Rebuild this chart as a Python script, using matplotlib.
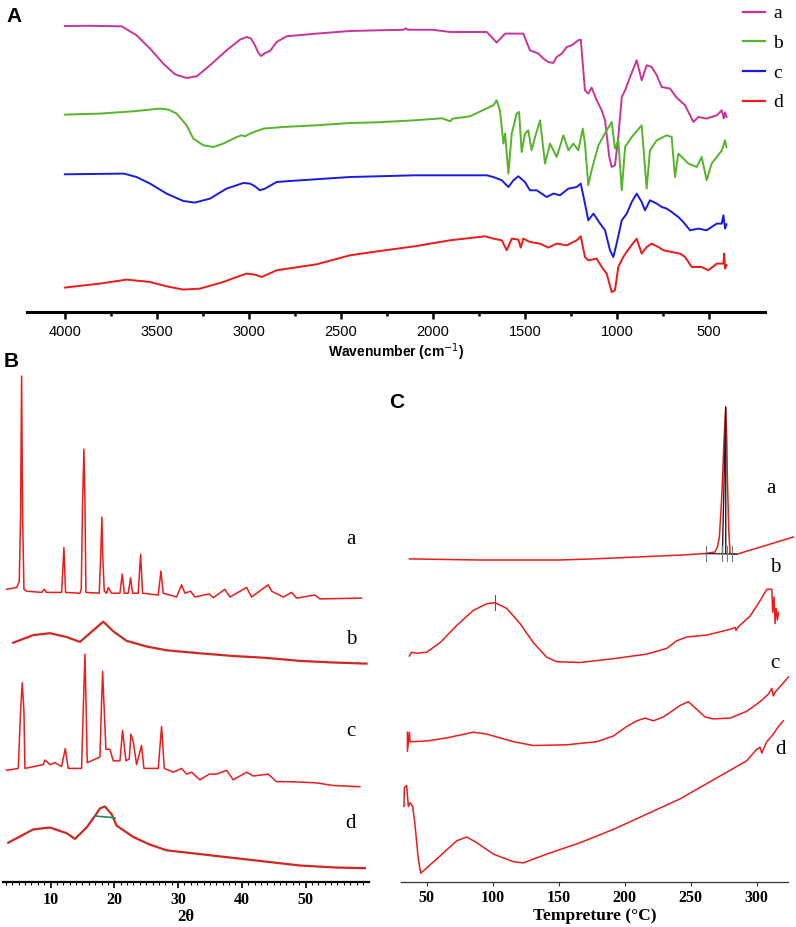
import numpy as np
import matplotlib
matplotlib.use("Agg")
import matplotlib.pyplot as plt
from matplotlib.lines import Line2D

W, H = 796, 927

# ---------------- data ----------------
# Panel A: FTIR, (wavenumber cm-1, transmittance a.u., stacked)
ftir_a = [(4000, 286.3), (3863, 286.5), (3691, 286), (3610, 277), (3537, 263.7), (3465, 248.7),
          (3401, 238), (3338, 234.3), (3283, 236), (3211, 247), (3121, 262), (3048, 272.7),
          (3012, 275.3), (2988, 273.7), (2967, 267), (2948, 259.3), (2934, 256.3), (2912, 259.3),
          (2885, 261.3), (2849, 270.3), (2795, 276), (2632, 278.7), (2450, 281.3), (2300, 282),
          (2160, 282.5), (2148, 284), (2135, 282.5), (2000, 282.5), (1907, 280.3), (1708, 280.3),
          (1681, 275.3), (1654, 269.7), (1608, 278.7), (1509, 278.7), (1473, 262), (1427, 258.7),
          (1400, 253.7), (1373, 250.3), (1346, 249.3), (1328, 255.3), (1300, 258.7), (1273, 265.3),
          (1246, 267), (1210, 272), (1197, 272.7), (1174, 222), (1156, 218.7), (1138, 224.7),
          (1110, 212), (1083, 202), (1065, 192), (1042, 155.3), (1029, 145.3), (1011, 147),
          (993, 175.3), (974, 215.3), (956, 222), (929, 235.3), (893, 252), (866, 232), (839, 247),
          (812, 245.3), (784, 237), (757, 225.3), (712, 223.7), (676, 214.7), (630, 207),
          (585, 190.3), (558, 195.3), (513, 193.7), (458, 197), (431, 202), (420, 194),
          (413, 200), (405, 195.3)]
ftir_b = [(4000, 197.7), (3809, 198.7), (3628, 201), (3483, 203.7), (3437, 202.7), (3392, 198.7),
          (3338, 187), (3302, 173.7), (3247, 167), (3193, 165.3), (3139, 168.7), (3066, 175.3),
          (3039, 177), (3021, 176), (2994, 178.7), (2921, 183.7), (2813, 185.3), (2632, 187),
          (2450, 189.3), (2300, 190), (2100, 192), (1950, 194), (1905, 191), (1895, 193.5),
          (1799, 196), (1672, 207), (1654, 212), (1636, 202), (1617, 168.7), (1608, 178.7),
          (1590, 138.7), (1572, 178.7), (1545, 198.7), (1532, 200.3), (1518, 160.3), (1500, 178.7),
          (1482, 182), (1464, 162), (1445, 175.3), (1418, 192), (1391, 148.7), (1364, 168.7),
          (1328, 155.3), (1291, 177), (1264, 162), (1237, 168.7), (1210, 162), (1186, 183.7),
          (1174, 168.7), (1156, 127), (1138, 142), (1101, 167), (1056, 182), (1029, 190.3),
          (1011, 163.7), (993, 172), (974, 122), (956, 165.3), (920, 175.3), (866, 187),
          (839, 123.7), (821, 162), (784, 172), (730, 177), (703, 175.3), (685, 135.3),
          (667, 158.7), (612, 148.7), (567, 145.3), (540, 155.3), (513, 132), (486, 148.7),
          (458, 155.3), (430, 162), (413, 172), (405, 165)]
ftir_c = [(4000, 138), (3679, 138.7), (3610, 135.3), (3537, 128.7), (3447, 118.7), (3356, 111.3),
          (3293, 109.7), (3211, 113.7), (3121, 123.7), (3030, 129.3), (2994, 128.7), (2967, 126),
          (2940, 122), (2912, 123.7), (2849, 130.3), (2776, 131.3), (2450, 135.3), (2300, 136),
          (2100, 137), (1907, 137), (1708, 137), (1672, 135.3), (1626, 132), (1590, 125.3),
          (1563, 132), (1536, 136), (1500, 130.3), (1473, 122), (1436, 122), (1382, 115.3),
          (1346, 118.7), (1310, 117), (1264, 123.7), (1219, 125.3), (1197, 128.7), (1174, 108.7),
          (1156, 92), (1128, 98.7), (1092, 88.7), (1065, 82), (1038, 62), (1020, 55.3),
          (1002, 68.7), (974, 92), (947, 98.7), (920, 110.3), (893, 118.7), (866, 110.3),
          (848, 102), (821, 112), (784, 108.7), (757, 105.3), (730, 103.7), (703, 100.3),
          (667, 95.3), (640, 90.3), (603, 82), (558, 83.7), (513, 82), (458, 88.7), (431, 88.7),
          (422, 97), (413, 83.7), (405, 88)]
ftir_d = [(4000, 24.7), (3809, 28.7), (3664, 32.7), (3537, 30.3), (3447, 26), (3356, 22.7),
          (3265, 23.7), (3139, 30.3), (3066, 35.3), (3012, 38.7), (2967, 37.7), (2930, 35.3),
          (2849, 42), (2632, 48), (2450, 57), (2300, 61), (2100, 66), (1907, 72), (1717, 76),
          (1672, 73.7), (1626, 72), (1599, 62), (1572, 73.7), (1536, 72.7), (1523, 64.7),
          (1509, 73.7), (1473, 70.3), (1418, 68.7), (1373, 64.7), (1328, 68.7), (1273, 67),
          (1219, 72), (1197, 76), (1174, 55.3), (1156, 52), (1110, 53.7), (1083, 45.3),
          (1056, 38.7), (1029, 20.3), (1011, 22), (993, 45.3), (966, 55.3), (929, 65.3),
          (893, 73.7), (866, 58.7), (839, 65.3), (812, 68.7), (775, 65.3), (748, 62), (703, 60.3),
          (658, 58.7), (630, 55.3), (594, 45.3), (540, 45.3), (504, 42), (458, 48.7), (422, 48.7),
          (418, 58.7), (413, 43.7), (405, 47)]
ftir_labels = ["a", "b", "c", "d"]
ftir_colors = ["#CC3399", "#55B52A", "#1A1AE6", "#F01818"]

# Panel B: XRD, (2theta, intensity a.u., stacked)
xrd_a = [(3.1, 292.7), (4.67, 294.5), (5.08, 300.3), (5.29, 365), (5.45, 506), (5.61, 365),
         (5.82, 292.7), (6.24, 290.8), (8.59, 289.6), (9.01, 292.7), (9.37, 289.6), (11.73, 289.6),
         (12.09, 334.5), (12.35, 289.6), (14.6, 288.8), (14.81, 292.7), (15.02, 380.3),
         (15.23, 432.8), (15.39, 380.3), (15.54, 289.6), (17.63, 288.8), (17.84, 323.1),
         (18.05, 365), (18.2, 323.1), (18.42, 290.8), (18.78, 288.8), (19.05, 294.5),
         (19.57, 288.8), (20.88, 288.8), (21.24, 307.9), (21.56, 288.8), (22.18, 288.8),
         (22.55, 304.1), (22.86, 288.8), (23.75, 288.8), (24.12, 327.7), (24.43, 288.8),
         (26.89, 287), (27.31, 310.9), (27.67, 288.8), (29.76, 285), (30.55, 297.2),
         (31.07, 288.8), (31.96, 290.8), (32.64, 285), (34.89, 288.1), (35.52, 284.3),
         (37.35, 292.7), (38.13, 285), (40.75, 294.5), (41.53, 285), (44.14, 297.2),
         (44.67, 290.8), (46.5, 285), (47.8, 289.6), (48.59, 283.9), (51.46, 287),
         (52.25, 283.1), (58.78, 283.9)]
xrd_b = [(4.14, 239.3), (7.28, 246.9), (9.9, 248.8), (12.51, 245), (14.6, 240.1), (16.17, 248.8),
         (18.26, 260.3), (19.83, 250.7), (21.92, 241.2), (25.06, 235.5), (28.2, 231.7),
         (33.42, 228.7), (38.65, 226), (43.88, 224.1), (49.11, 221.1), (54.34, 219.5),
         (59.57, 218.4)]
xrd_c = [(3.1, 111.7), (4.93, 113.6), (5.29, 170.7), (5.55, 199.3), (5.82, 170.7), (5.97, 113.6),
         (8.85, 117.4), (9.11, 122), (9.9, 117.4), (10.68, 119.3), (11.73, 115.5), (12.3, 133.4),
         (12.77, 113.6), (14.86, 113.6), (15.12, 170.7), (15.39, 227.9), (15.59, 170.7),
         (15.75, 119.3), (17.74, 125), (17.95, 170.7), (18.16, 210.7), (18.42, 170.7),
         (18.68, 132.7), (19.31, 132.7), (19.83, 121.2), (20.88, 121.2), (21.29, 151.7),
         (21.82, 121.2), (22.34, 123.1), (22.6, 147.9), (22.97, 140.3), (23.49, 117.4),
         (24.27, 136.5), (24.64, 113.6), (26.89, 113.6), (27.41, 155.5), (27.83, 113.6),
         (29.24, 109.8), (30.55, 113.6), (31.33, 107.9), (32.12, 109.8), (33.42, 102.2),
         (34.89, 107.9), (36.04, 107.9), (37.61, 111.7), (38.65, 102.2), (40.75, 109.8),
         (41.79, 106), (44.14, 107.9), (45.45, 100.3), (47.8, 100.3), (51.73, 99.1),
         (54.34, 96.5), (58.52, 95.3)]
xrd_d = [(3.36, 39.3), (7.28, 52.6), (9.9, 54.5), (12.51, 48.8), (13.82, 43.1), (15.65, 54.5),
         (16.95, 66), (17.74, 73.6), (18.52, 75.5), (19.57, 67.9), (20.35, 56.4), (22.97, 45),
         (25.58, 37.4), (28.2, 31.7), (33.42, 27.9), (38.65, 24.1), (43.88, 20.3), (49.11, 16.5),
         (54.34, 14.6), (59.31, 13.8)]
xrd_d_fit = [(16.95, 66), (20.1, 64.2)]   # green baseline across the amorphous halo
xrd_labels = ["a", "b", "c", "d"]

# Panel C: DSC, (temperature degC, heat flow a.u., stacked)
dsc_a = [(36.9, 323.1), (90.4, 322), (151, 322), (176.3, 323.1), (241.9, 326.9), (260.8, 328.4),
         (268.4, 330), (270.2, 335), (271.7, 345), (273.5, 385), (275.2, 441.7), (276.5, 475),
         (277.3, 441.7), (277.8, 401.7), (278.8, 351.7), (279.8, 328.4), (284.8, 327.7),
         (327.8, 345)]
dsc_a_fit = [(261.3, 328.4), (284.8, 328)]
dsc_a_peak = [(274, 328.4), (276.5, 475), (276.5, 328.4)]
dsc_a_marks = [261.3, 274, 277.8, 281.6]
dsc_b = [(36.9, 226), (38.6, 229.8), (42.4, 228.7), (50, 229.8), (60.1, 239.3), (72.7, 256.5),
         (85.4, 271.7), (95.5, 278.2), (101.8, 279.3), (110.6, 273.6), (120.7, 258.4),
         (130.8, 239.3), (140.9, 224.8), (148.5, 220.3), (166.2, 219.5), (191.4, 223.3),
         (216.7, 227.9), (231.8, 233.6), (239.4, 241.2), (247, 245), (262.1, 246.9),
         (279.8, 252.7), (283.6, 254.6), (284.3, 251.5), (286.1, 255.3), (295, 266),
         (302.5, 281.2), (307.6, 292.7), (311.4, 292.7), (312.1, 269.8), (313.1, 285),
         (313.9, 258.4), (314.6, 273.6), (315.7, 262.2), (316.4, 269.8)]
dsc_b_mark = 101.8
dsc_c = [(35.4, 149.8), (35.4, 130.7), (36.9, 149.8), (37.4, 140.3), (38.6, 140.3), (50, 141),
         (65.2, 144.1), (85.4, 149.8), (95.5, 147.9), (115.7, 140.3), (130.8, 136.5),
         (156.1, 137.2), (178.8, 140.3), (191.4, 146), (201.5, 155.5), (209.1, 161.2),
         (215.4, 163.9), (221.7, 161.2), (229.3, 165), (241.9, 176.5), (248.2, 180.3),
         (254.5, 172.7), (260.9, 165), (267.2, 163.1), (279.8, 163.9), (292.4, 170.7),
         (302.5, 180.3), (308.8, 187.9), (311.4, 193.6), (312.6, 186), (313.9, 189.8),
         (317.7, 195.5), (324, 205)]
dsc_d = [(32.8, 75.5), (33.1, 94.5), (34.8, 96.5), (36.1, 75.5), (37.4, 79.3), (39.4, 75.5),
         (41.2, 56.4), (43.7, 22.2), (45.5, 8.8), (48.7, 12.6), (60.1, 26), (72.7, 41.2),
         (80.3, 45), (87.9, 39.3), (100.5, 27.9), (115.7, 20.3), (123.2, 19.1), (140.9, 27.9),
         (166.2, 39.3), (191.4, 52.6), (216.7, 67.9), (241.9, 83.1), (267.2, 102.2),
         (279.8, 111.7), (292.4, 121.2), (300, 132.7), (302.5, 134.6), (303.8, 128.9),
         (307.6, 140.3), (312.6, 147.9), (316.4, 155.5), (320.2, 161.2)]
dsc_labels = ["a", "b", "c", "d"]


def xy(points):
    arr = np.array(points, dtype=float)
    return arr[:, 0], arr[:, 1]


def fpos(x, y):
    # pixel position in the 796x927 canvas -> figure fraction
    return x / W, 1 - y / H


SERIF = "Liberation Serif"
SANS = "Liberation Sans"

fig = plt.figure(figsize=(W / 100, H / 100), dpi=100)

# ---------------- A: FTIR ----------------
axA = fig.add_axes([26.5 / W, 1 - 312.3 / H, 738.5 / W, 302.3 / H])
handles = []
for pts, lab, col in zip([ftir_a, ftir_b, ftir_c, ftir_d], ftir_labels, ftir_colors):
    x, y = xy(pts)
    axA.plot(x, y, color=col, lw=1.4)
    handles.append(Line2D([], [], color=col, lw=1.6, label=lab))
axA.set_xlim(4208, 196)
axA.set_ylim(0, 302.3)
for s in ["top", "right", "left"]:
    axA.spines[s].set_visible(False)
axA.spines["bottom"].set_linewidth(2.2)
axA.set_yticks([])
axA.set_xticks(np.arange(4000, 499, -500))
axA.set_xticks(np.arange(3750, 499, -500), minor=True)
axA.tick_params(axis="x", which="major", length=5, width=1.8, pad=4, labelsize=10.5)
axA.tick_params(axis="x", which="minor", length=3, width=1.8)
for t in axA.get_xticklabels():
    t.set_fontfamily(SANS)
axA.set_xlabel("Wavenumber (cm$^{-1}$)", fontsize=10, fontweight="bold",
               fontfamily=SANS, labelpad=2)
fig.legend(handles=handles, loc="upper left", bbox_to_anchor=fpos(735, -3),
           frameon=False, prop={"family": SERIF, "size": 14},
           handlelength=1.15, handletextpad=0.4, labelspacing=0.62, borderaxespad=0)
fig.text(*fpos(6, 16), "A", fontsize=15, fontweight="bold", fontfamily=SANS, va="center")

# ---------------- B: XRD ----------------
axB = fig.add_axes([3.3 / W, 1 - 882 / H, 366 / W, 510 / H])
for pts in [xrd_a, xrd_c]:
    x, y = xy(pts)
    axB.plot(x, y, color="#F01A1A", lw=1.1)
for pts in [xrd_b, xrd_d]:
    x, y = xy(pts)
    axB.plot(x, y, color="#F01A1A", lw=1.6)
    axB.plot(x, y, color="#1E7A4A", lw=0.6, ls=(0, (1, 2)))
x, y = xy(xrd_d_fit)
axB.plot(x, y, color="#1E8C5A", lw=1.2)
axB.set_xlim(2.58, 60)
axB.set_ylim(0, 510)
for s in ["top", "right", "left"]:
    axB.spines[s].set_visible(False)
axB.spines["bottom"].set_linewidth(1.6)
axB.set_yticks([])
axB.set_xticks([10, 20, 30, 40, 50])
axB.set_xticks(np.arange(3, 60, 1), minor=True)
axB.tick_params(axis="x", which="major", length=4, width=1.2, pad=3, labelsize=11.5)
axB.tick_params(axis="x", which="minor", length=2, width=0.8)
for t in axB.get_xticklabels():
    t.set_fontfamily(SERIF)
    t.set_fontweight("bold")
axB.set_xlabel("2θ", fontsize=12, fontweight="bold", fontfamily=SERIF, labelpad=1)
for lab, ypix in zip(xrd_labels, [539, 639, 732, 824]):
    fig.text(*fpos(351, ypix), lab, fontsize=15, fontfamily=SERIF, ha="center", va="center")
fig.text(*fpos(4, 361), "B", fontsize=15, fontweight="bold", fontfamily=SANS, va="center")

# ---------------- C: DSC ----------------
axC = fig.add_axes([400.7 / W, 1 - 882 / H, 387.6 / W, 486 / H])
for pts in [dsc_a, dsc_b, dsc_c, dsc_d]:
    x, y = xy(pts)
    axC.plot(x, y, color="#F01A1A", lw=1.1, clip_on=False)
x, y = xy(dsc_a_fit)
axC.plot(x, y, color="#222222", lw=0.9)
x, y = xy(dsc_a_peak)
axC.plot(x, y, color="#222222", lw=1.0)
for t in dsc_a_marks:
    axC.plot([t, t], [321, 336], color="#777777", lw=0.8)
axC.plot([dsc_b_mark, dsc_b_mark], [272, 287], color="#555555", lw=0.8)
axC.set_xlim(30.3, 323.9)
axC.set_ylim(0, 486)
for s in ["top", "right", "left"]:
    axC.spines[s].set_visible(False)
axC.spines["bottom"].set_linewidth(0.9)
axC.spines["bottom"].set_color("#333333")
axC.set_yticks([])
axC.set_xticks([50, 100, 150, 200, 250, 300])
axC.tick_params(axis="x", which="major", length=3, width=0.8, pad=3, labelsize=11.5,
                color="#333333")
for t in axC.get_xticklabels():
    t.set_fontfamily(SERIF)
    t.set_fontweight("bold")
axC.set_xlabel("Tempreture (°C)", fontsize=12.5, fontweight="bold", fontfamily=SERIF,
               labelpad=1)
for lab, (xpix, ypix) in zip(dsc_labels, [(771, 488), (775, 567), (775, 663), (780, 749)]):
    fig.text(*fpos(xpix, ypix), lab, fontsize=15, fontfamily=SERIF, ha="center", va="center")
fig.text(*fpos(389, 402), "C", fontsize=15, fontweight="bold", fontfamily=SANS, va="center")

fig.savefig("out.png", dpi=100)
